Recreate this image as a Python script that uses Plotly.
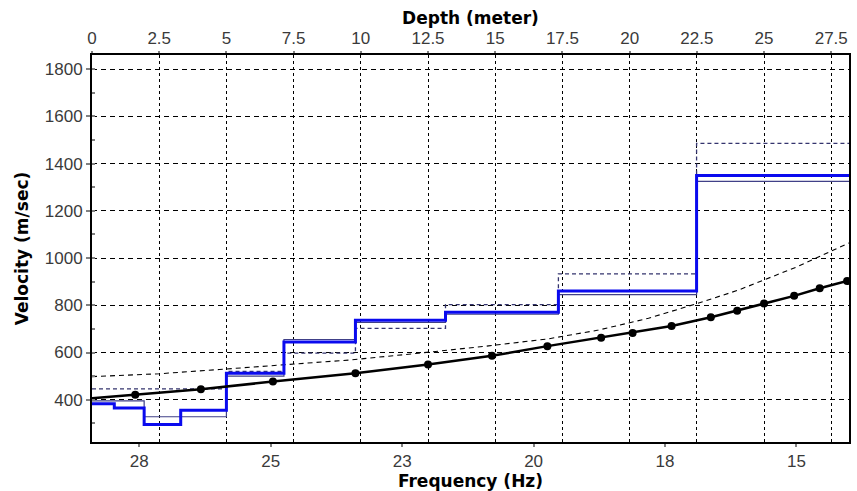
import plotly.graph_objects as go

# ---- data ----
layer_top = [0, 0.83, 1.94, 3.30, 5.0, 7.14, 9.80, 13.15, 17.35, 22.49]
depth_max = 28.16
vs_final = [383, 365, 295, 355, 512, 645, 737, 770, 860, 1350]
vs_previous = [395, 395, 328, 328, 500, 655, 727, 762, 845, 1325]
vs_initial = [446, 446, 446, 446, 520, 597, 702, 803, 933, 1486]

curve_depth = [0, 1.61, 4.05, 6.73, 9.80, 12.50, 14.88, 16.94, 18.94, 20.11,
               21.56, 23.02, 24.0, 25.0, 26.12, 27.07, 28.09, 28.16]
curve_vel = [406, 421, 444, 477, 512, 549, 586, 627, 663, 683,
             712, 749, 777, 808, 840, 872, 903, 905]
dot_depth = curve_depth[1:-1]
dot_vel = curve_vel[1:-1]

upper_depth = [0, 2.5, 4.73, 7.33, 9.55, 12.15, 14.75, 16.98, 18.84, 20.7,
               22.44, 24.04, 26.27, 28.16]
upper_vel = [498, 510, 528, 548, 568, 597, 628, 658, 695, 745,
             805, 864, 965, 1064]

freq_range = [28.40, 14.0]
freq_tickvals = [27.5, 25, 22.5, 20, 17.5, 15]
freq_ticktext = ["28", "25", "23", "20", "18", "15"]
depth_ticks = [0, 2.5, 5, 7.5, 10, 12.5, 15, 17.5, 20, 22.5, 25, 27.5]
vel_ticks = [400, 600, 800, 1000, 1200, 1400, 1600, 1800]
vel_range = [221, 1860]


def steps(vals):
    return layer_top + [depth_max], vals + [vals[-1]]


fig = go.Figure()

# invisible trace to activate the frequency axis
fig.add_trace(go.Scatter(x=freq_range, y=[None, None], xaxis="x", yaxis="y",
                         mode="lines", showlegend=False, hoverinfo="skip"))

fig.add_trace(go.Scatter(x=upper_depth, y=upper_vel, xaxis="x2", yaxis="y",
                         mode="lines", line=dict(color="#000000", width=1.1, dash="5px,4px"),
                         showlegend=False))

xs, ys = steps(vs_initial)
fig.add_trace(go.Scatter(x=xs, y=ys, xaxis="x2", yaxis="y", mode="lines",
                         line=dict(color="#34346e", width=1.3, dash="4px,3px", shape="hv"),
                         showlegend=False))

xs, ys = steps(vs_previous)
fig.add_trace(go.Scatter(x=xs, y=ys, xaxis="x2", yaxis="y", mode="lines",
                         line=dict(color="#404088", width=1.2, shape="hv"),
                         showlegend=False))

xs, ys = steps(vs_final)
fig.add_trace(go.Scatter(x=xs, y=ys, xaxis="x2", yaxis="y", mode="lines",
                         line=dict(color="#0a0aee", width=3, shape="hv"),
                         showlegend=False))

fig.add_trace(go.Scatter(x=curve_depth, y=curve_vel, xaxis="x2", yaxis="y",
                         mode="lines", line=dict(color="black", width=2.5),
                         showlegend=False))
fig.add_trace(go.Scatter(x=dot_depth, y=dot_vel, xaxis="x2", yaxis="y",
                         mode="markers", marker=dict(color="black", size=8, symbol="circle"),
                         showlegend=False))

tickfont = dict(family="Liberation Sans, Arial, sans-serif", size=17, color="#3a3a3a")
titlefont = dict(family="DejaVu Sans, sans-serif", size=17, color="black", weight="bold")

fig.update_layout(
    width=857, height=491,
    margin=dict(l=92, r=6, t=55, b=45),
    paper_bgcolor="white", plot_bgcolor="white",
    xaxis=dict(
        range=freq_range, tickmode="array", tickvals=freq_tickvals, ticktext=freq_ticktext,
        showgrid=False, zeroline=False, showline=True, linecolor="black", linewidth=2,
        ticks="outside", ticklen=3, tickwidth=2, tickcolor="#808080",
        tickfont=tickfont,
        title=dict(text="Frequency (Hz)", font=titlefont, standoff=2),
    ),
    xaxis2=dict(
        range=[0, depth_max], overlaying="x", side="top", anchor="y",
        tickmode="array", tickvals=depth_ticks,
        showgrid=True, gridcolor="black", gridwidth=1, griddash="3px,3px",
        zeroline=False, showline=True, linecolor="black", linewidth=2,
        ticks="outside", ticklen=2, tickwidth=2, tickcolor="#808080",
        tickfont=tickfont,
        title=dict(text="Depth (meter)", font=titlefont, standoff=0),
    ),
    yaxis=dict(
        range=vel_range, tickmode="array", tickvals=vel_ticks,
        showgrid=True, gridcolor="black", gridwidth=1, griddash="5px,4px",
        zeroline=False, showline=True, linecolor="black", linewidth=2, mirror=True,
        ticks="outside", ticklen=4, tickwidth=2, tickcolor="#808080",
        tickfont=tickfont,
        minor=dict(dtick=100, tick0=0, ticks="inside", ticklen=3, tickcolor="#808080", showgrid=False),
        title=dict(text="Velocity (m/sec)", font=titlefont, standoff=12),
    ),
)

fig.write_html("out.html")
